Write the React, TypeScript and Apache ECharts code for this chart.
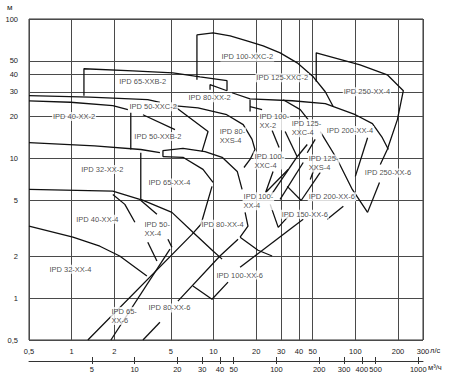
import React, { useEffect, useRef } from "react";
import * as echarts from "echarts";

// Axis ticks
const flowTicks = [0.5, 1, 2, 5, 10, 20, 30, 40, 50, 100, 200, 300];
const flowTickLabels = ["0,5", "1", "2", "5", "10", "20", "30", "40", "50", "100", "200", "300"];
const volumeTicks = [5, 10, 20, 30, 40, 50, 100, 200, 300, 400, 500, 1000];
const volumeTickLabels = ["5", "10", "20", "30", "40", "50", "100", "200", "300", "400", "500", "1000"];
const headTicks = [0.5, 1, 2, 5, 10, 20, 30, 40, 50, 100];
const headTickLabels = ["0,5", "1", "2", "5", "10", "20", "30", "40", "50", "100"];
const flowMin = 0.5;
const flowMax = 300;
const headMin = 0.5;
const headMax = 100;
const m3hPerLs = 3.6;

// Curve strokes: [Q l/s, H m]
const c65xxb2 = [[1.22, 28.2], [1.22, 44.0], [2.7, 42.5], [5.17, 41.1], [8.03, 38.5], [12.45, 36.1], [12.45, 30.6]];
const c80xx2Top = [[9.45, 31.1], [9.45, 33.8], [12.45, 30.6]];
const c100xxc2 = [[7.64, 36.7], [7.64, 76.9], [9.92, 79.4], [13.1, 75.6], [17.2, 69.6], [22.4, 64.1], [29.5, 57.2], [38.9, 48.5], [50.5, 38.5], [61.4, 30.1], [69.9, 23.5]];
const c250xx4 = [[53.0, 35.5], [53.0, 57.2], [108, 46.9], [168, 39.8], [218, 30.6], [198, 19.0], [168, 11.6], [150, 9.06]];
const c250xx6 = [[148, 6.74], [122, 4.11]];
const c125xxc2Low = [[13.5, 29.6], [18.1, 26.8], [35.9, 25.95], [61.4, 24.7], [100, 20.6], [132, 17.8], [155, 14.1], [171, 11.6]];
const c125xxc4Top = [[31.0, 26.4], [40.9, 22.4], [46.5, 19.0]];
const c100xx2Left = [[18.1, 26.4], [18.1, 21.7]];
const c100xx2Top = [[18.1, 23.5], [22.0, 22.4]];
const c40xx2 = [[0.5, 28.2], [1.34, 27.5], [3.44, 26.4], [4.19, 25.3]];
const c40xx2Low = [[0.5, 25.9], [0.98, 25.3], [1.95, 23.9], [2.49, 22.4]];
const c80xxs4 = [[5.17, 23.9], [7.77, 23.1], [12.4, 20.6], [16.2, 17.5], [18.7, 13.7], [19.6, 11.6], [18.1, 9.84], [16.4, 8.62]];
const c50xxc2Right = [[5.35, 23.5], [9.15, 15.6], [8.29, 11.2]];
const c50xxb2Top = [[3.18, 20.6], [5.35, 16.1]];
const c50xxb2Left = [[2.61, 21.3], [2.61, 11.6]];
const c32xx2 = [[0.5, 13.0], [1.45, 12.3], [3.07, 11.6], [4.19, 11.0]];
const c32xx2Right = [[3.07, 11.0], [3.07, 5.09], [5.09, 4.11], [7.16, 2.96], [9.92, 2.17], [11.5, 1.9]];
const c40xx4 = [[0.5, 6.0], [1.95, 5.84], [3.02, 5.09], [3.99, 3.98]];
const c50xx4End = [[4.77, 2.64], [5.09, 2.31]];
const c40xx4Low = [[1.95, 5.53], [2.37, 4.69], [2.79, 3.49]];
const c32xx4 = [[0.5, 3.27], [1.02, 2.73], [1.58, 2.35], [2.18, 2.0], [3.39, 1.44]];
const c65xx6Left = [[1.3, 0.5], [7.05, 2.86], [8.16, 3.38], [9.76, 6.31]];
const c65xx6Right = [[1.89, 0.5], [4.93, 2.24]];
const c50xx4Low = [[3.44, 2.51], [3.99, 1.84]];
const c80xx6Left = [[3.18, 0.5], [4.19, 0.67]];
const c80xx6Right = [[5.61, 0.95], [11.1, 2.0], [14.9, 2.64]];
const c80xx6Low = [[7.16, 1.22], [9.76, 0.98], [12.66, 1.3]];
const c150xx6Left = [[15.4, 1.66], [42.9, 3.67]];
const c65xx4Top = [[4.4, 10.3], [4.4, 11.4], [6.09, 11.8], [8.71, 11.2], [11.5, 10.2], [14.7, 8.08], [15.9, 6.0]];
const c65xx4Low = [[4.4, 10.3], [6.09, 10.2], [8.43, 8.35], [9.92, 6.74]];
const c80xx4Right = [[16.7, 4.11], [17.5, 3.27], [15.4, 2.73]];
const c100xx6Low = [[15.4, 2.73], [20.6, 2.2], [25.9, 2.0]];
const c100xx2a = [[25.9, 15.85], [29.0, 12.0]];
const c100xx2b = [[32.0, 15.6], [38.9, 10.3]];
const c125xxc4a = [[45.8, 12.6], [38.9, 10.3]];
const c125xxc4b = [[38.9, 10.3], [25.1, 5.35]];
const c125xxs4a = [[42.9, 9.36], [29.5, 5.09]];
const c125xxs4b = [[45.8, 11.0], [52.1, 13.7]];
const c125xxs4c = [[52.1, 8.77], [48.1, 7.08]];
const c200xx6a = [[56.6, 7.94], [41.5, 5.0]];
const c200xx6b = [[33.1, 6.31], [41.5, 5.0]];
const c150xx6Right = [[63.4, 3.67], [82.3, 4.54]];
const c100xxc4a = [[26.3, 8.08], [23.3, 5.7], [33.6, 8.35]];
const c100xx4Right = [[25.1, 4.69], [28.6, 3.21], [34.7, 3.98]];
const c200xx4Left = [[56.6, 15.6], [74.6, 9.84], [95.2, 6.0], [122, 4.11]];
const c200xx4Right = [[122, 14.1], [100, 7.44]];

const strokes = [
  c65xxb2, c80xx2Top, c100xxc2, c250xx4, c250xx6, c125xxc2Low, c125xxc4Top, c100xx2Left, c100xx2Top,
  c40xx2, c40xx2Low, c80xxs4, c50xxc2Right, c50xxb2Top, c50xxb2Left, c32xx2, c32xx2Right, c40xx4,
  c50xx4End, c40xx4Low, c32xx4, c65xx6Left, c65xx6Right, c50xx4Low, c80xx6Left, c80xx6Right, c80xx6Low,
  c150xx6Left, c65xx4Top, c65xx4Low, c80xx4Right, c100xx6Low, c100xx2a, c100xx2b, c125xxc4a, c125xxc4b,
  c125xxs4a, c125xxs4b, c125xxs4c, c200xx6a, c200xx6b, c150xx6Right, c100xxc4a, c100xx4Right,
  c200xx4Left, c200xx4Right,
];

// Pump labels: [text, Q at left edge, H at middle]
const pumpLabels: [string, number, number][] = [
  ["IPD 100-XXC-2", 11.1, 53.5],
  ["IPD 65-XXB-2", 2.11, 35.5],
  ["IPD 125-XXC-2", 19.6, 37.9],
  ["IPD 250-XX-4", 80.9, 30.1],
  ["IPD 80-XX-2", 6.5, 27.3],
  ["IPD 50-XXC-2", 2.49, 23.5],
  ["IPD 40-XX-2", 0.72, 20.0],
  ["IPD 100-\nXX-2", 20.6, 18.5],
  ["IPD 125-\nXXC-4", 34.7, 16.5],
  ["IPD 200-XX-4", 61.4, 15.85],
  ["IPD 80-\nXXS-4", 10.8, 14.4],
  ["IPD 50-XXB-2", 2.7, 14.4],
  ["IPD 100-\nXXC-4", 19.0, 9.67],
  ["IPD 125-\nXXS-4", 45.8, 9.21],
  ["IPD 32-XX-2", 1.14, 8.35],
  ["IPD 250-XX-6", 113.9, 7.88],
  ["IPD 65-XX-4", 3.39, 6.68],
  ["IPD 100-\nXX-4", 15.9, 4.93],
  ["IPD 200-XX-6", 45.8, 5.31],
  ["IPD 150-XX-6", 29.5, 3.98],
  ["IPD 40-XX-4", 1.05, 3.67],
  ["IPD 80-XX-4", 8.03, 3.38],
  ["IPD 50-\nXX-4", 3.18, 3.11],
  ["IPD 32-XX-4", 0.68, 1.61],
  ["IPD 100-XX-6", 10.25, 1.46],
  ["IPD 65-\nXX-6", 1.86, 0.744],
  ["IPD 80-XX-6", 3.39, 0.848],
];

const FONT = "'Liberation Sans', Arial, sans-serif";
const INK = "#1a1a1a";

export default function App() {
  const ref = useRef<HTMLDivElement>(null);
  useEffect(() => {
    const chart = echarts.init(ref.current!, null, { renderer: "svg" });
    const L = Math.log10;
    const fmt = (ticks: number[], labels: string[], scale = 1) => (v: number) => {
      const i = ticks.findIndex((t) => Math.abs(L(t * scale) - v) < 1e-6);
      return i >= 0 ? labels[i] : "";
    };
    const labelText = { fontSize: 7.5, color: INK, fontFamily: FONT };
    const lineSeries = strokes.map((pts) => ({
      type: "line",
      xAxisIndex: 0,
      yAxisIndex: 0,
      data: pts.map(([q, h]) => [L(q), L(h)]),
      showSymbol: false,
      symbol: "none",
      silent: true,
      z: 3,
      lineStyle: { color: "#111", width: 1.3 },
    }));
    const labelSeries = {
      type: "scatter",
      xAxisIndex: 0,
      yAxisIndex: 0,
      symbolSize: 1,
      silent: true,
      z: 5,
      itemStyle: { color: "rgba(0,0,0,0)" },
      data: pumpLabels.map(([name, q, h]) => ({ name, value: [L(q), L(h)] })),
      label: {
        show: true,
        position: "right",
        distance: 0,
        formatter: (p: any) => p.name,
        fontSize: 7.5,
        lineHeight: 9,
        color: INK,
        fontFamily: FONT,
        backgroundColor: "#fff",
        padding: [0, 1],
        align: "left",
      },
    };
    const volTicksLog = volumeTicks.map(L);
    chart.setOption({
      animation: false,
      textStyle: { fontFamily: FONT },
      grid: { left: 29, right: 27, top: 19, bottom: 37, show: true, borderColor: "#333", borderWidth: 1 },
      xAxis: [
        {
          type: "value",
          min: L(flowMin),
          max: L(flowMax),
          position: "bottom",
          axisLine: { show: false },
          axisTick: { show: false, customValues: flowTicks.map(L) },
          axisLabel: { ...labelText, margin: 7, customValues: flowTicks.map(L), formatter: fmt(flowTicks, flowTickLabels) },
          splitLine: { show: true, lineStyle: { color: "#4a4a4a", width: 1 } },
        },
        {
          type: "value",
          min: L(flowMin * m3hPerLs),
          max: L(flowMax * m3hPerLs),
          position: "bottom",
          offset: 21,
          axisLine: { show: true, lineStyle: { color: "#333", width: 1 } },
          axisTick: { show: true, length: 3, customValues: volTicksLog, lineStyle: { color: "#333" } },
          axisLabel: { ...labelText, margin: 4, customValues: volTicksLog, formatter: fmt(volumeTicks, volumeTickLabels) },
          splitLine: { show: false },
        },
        {
          type: "value",
          min: L(flowMin * m3hPerLs),
          max: L(flowMax * m3hPerLs),
          position: "bottom",
          offset: 21,
          axisLine: { show: false },
          axisTick: { show: true, inside: true, length: 4, customValues: volTicksLog, lineStyle: { color: "#333" } },
          axisLabel: { show: false },
          splitLine: { show: false },
        },
      ],
      yAxis: {
        type: "value",
        min: L(headMin),
        max: L(headMax),
        axisLine: { show: false },
        axisTick: { show: false, customValues: headTicks.map(L) },
        axisLabel: { ...labelText, margin: 11, customValues: headTicks.map(L), formatter: fmt(headTicks, headTickLabels) },
        splitLine: { show: true, lineStyle: { color: "#4a4a4a", width: 1 } },
      },
      graphic: [
        { type: "text", left: 7, top: 3, style: { text: "м", fontSize: 8, fill: INK, fontFamily: FONT } },
        { type: "text", left: 430, top: 346, style: { text: "л/с", fontSize: 7.5, fill: INK, fontFamily: FONT } },
        { type: "text", left: 428, top: 363, style: { text: "м³/ч", fontSize: 7.5, fill: INK, fontFamily: FONT } },
      ],
      series: [...lineSeries, labelSeries],
    });
    return () => chart.dispose();
  }, []);
  return <div ref={ref} style={{ position: "fixed", left: 0, top: 0, width: 450, height: 377, background: "#fff" }} />;
}
